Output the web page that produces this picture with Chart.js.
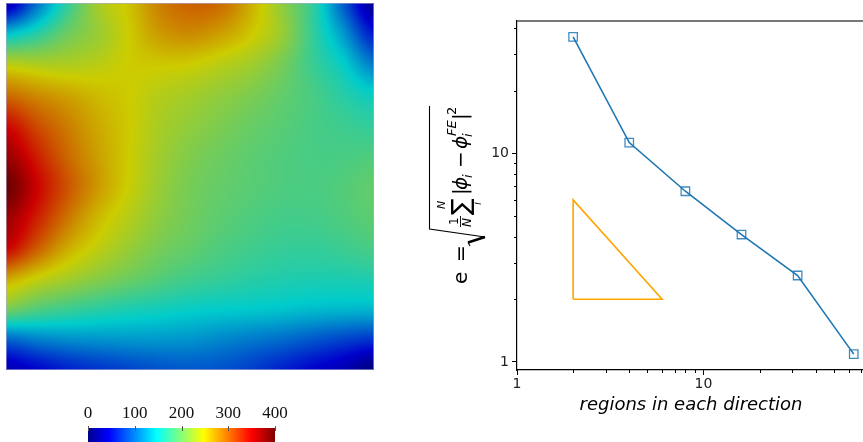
<!DOCTYPE html>
<html>
<head>
<meta charset="utf-8">
<script src="https://cdn.jsdelivr.net/npm/chart.js@4.4.1/dist/chart.umd.min.js"></script>
<style>
  html, body { margin: 0; padding: 0; background: #fff; overflow: hidden; width: 863px; height: 442px; }
  canvas { position: absolute; }
  #field { left: 0; top: 0; }
  #cbar { left: 0; top: 395px; }
  #conv { left: 420px; top: 0; }
</style>
</head>
<body>
<canvas id="field" width="420" height="395"></canvas>
<canvas id="cbar" width="420" height="47"></canvas>
<canvas id="conv" width="455" height="442"></canvas>
<script>
// --- dados do campo (linhas de cima para baixo) ---
const gridU = [0, 1/12, 2/12, 3/12, 4/12, 5/12, 6/12, 7/12, 8/12, 9/12, 10/12, 11/12, 1];
const gridV = [0, 1/12, 2/12, 3/12, 4/12, 5/12, 6/12, 7/12, 8/12, 9/12, 10/12, 11/12, 1];
const fieldValues = [
  [ 25, 100, 170, 228, 252, 285, 300, 295, 262, 218, 170,  90,  15],
  [140, 165, 200, 222, 248, 272, 280, 270, 250, 222, 172, 120,  55],
  [238, 232, 232, 238, 248, 250, 248, 238, 226, 205, 175, 148, 105],
  [295, 280, 268, 256, 248, 236, 228, 218, 208, 195, 182, 165, 150],
  [345, 312, 287, 265, 249, 230, 218, 208, 198, 190, 182, 176, 170],
  [375, 335, 298, 270, 248, 226, 210, 200, 192, 186, 182, 182, 185],
  [398, 350, 308, 273, 246, 222, 205, 196, 190, 185, 183, 187, 195],
  [375, 335, 292, 258, 236, 216, 202, 192, 185, 180, 180, 185, 192],
  [350, 305, 265, 241, 222, 205, 195, 185, 178, 173, 172, 176, 182],
  [268, 245, 228, 213, 200, 188, 178, 172, 166, 162, 160, 160, 162],
  [205, 187, 176, 167, 160, 155, 150, 147, 145, 142, 138, 136, 135],
  [ 95, 108, 115, 118, 120, 120, 118, 112, 105,  98,  88,  78,  70],
  [ 30,  45,  60,  70,  78,  85,  88,  85,  75,  60,  45,  30,   5]
];
const colorbarTicks = [0, 100, 200, 300, 400];

// --- dados da convergência ---
const regions = [2, 4, 8, 16, 32, 64];
const errors = [36.4, 11.3, 6.6, 4.09, 2.6, 1.09];
const slopeX = [2, 2, 6, 2];
const slopeY = [2, 6, 2, 2];
const xTicks = [1, 2, 3, 4, 5, 6, 7, 8, 9, 10, 20, 30, 40, 50, 60, 70];
const yTicks = [1, 2, 3, 4, 5, 6, 7, 8, 9, 10, 20, 30, 40];

// mapa de cores "jet" (ParaView)
const jetStops = [[0, 0, 0, 0.5625], [0.1111, 0, 0, 1], [0.3651, 0, 1, 1], [0.4921, 0.5, 1, 0.5],
                  [0.6190, 1, 1, 0], [0.8730, 1, 0, 0], [1, 0.5, 0, 0]];
function jet(t) {
  t = Math.min(1, Math.max(0, t));
  for (let k = 1; k < jetStops.length; k++) {
    const a = jetStops[k - 1], b = jetStops[k];
    if (t <= b[0]) {
      const f = (t - a[0]) / (b[0] - a[0]);
      return [1, 2, 3].map(j => a[j] + (b[j] - a[j]) * f);
    }
  }
  return jetStops[jetStops.length - 1].slice(1);
}

// sombreamento suave entre os nós da grade (Catmull-Rom)
function cr(p0, p1, p2, p3, t) {
  return 0.5 * (2 * p1 + (-p0 + p2) * t + (2 * p0 - 5 * p1 + 4 * p2 - p3) * t * t + (-p0 + 3 * p1 - 3 * p2 + p3) * t * t * t);
}
function sampleField(u, v) {
  const nu = gridU.length - 1, nv = gridV.length - 1;
  const fu = Math.min(Math.max(u, 0), 1) * nu;
  const fv = Math.min(Math.max(v, 0), 1) * nv;
  const i = Math.min(Math.floor(fu), nu - 1), j = Math.min(Math.floor(fv), nv - 1);
  const tu = fu - i, tv = fv - j;
  const at = (jj, ii) => fieldValues[Math.min(Math.max(jj, 0), nv)][Math.min(Math.max(ii, 0), nu)];
  const r = [-1, 0, 1, 2].map(d => cr(at(j + d, i - 1), at(j + d, i), at(j + d, i + 1), at(j + d, i + 2), tu));
  return cr(r[0], r[1], r[2], r[3], tv);
}

const fieldPlugin = {
  id: 'fieldPlugin',
  beforeDatasetsDraw(chart) {
    const { ctx, chartArea, scales: { x, y } } = chart;
    const left = Math.round(chartArea.left), top = Math.round(chartArea.top);
    const w = Math.round(chartArea.right) - left, h = Math.round(chartArea.bottom) - top;
    const img = ctx.createImageData(w, h);
    for (let py = 0; py < h; py++) {
      const v = y.getValueForPixel(top + py + 0.5);
      for (let px = 0; px < w; px++) {
        const u = x.getValueForPixel(left + px + 0.5);
        const c = jet(sampleField(u, v) / 400);
        const p = (py * w + px) * 4;
        img.data[p] = Math.round(c[0] * 255 * 0.8);
        img.data[p + 1] = Math.round(c[1] * 255 * 0.8);
        img.data[p + 2] = Math.round(c[2] * 255 * 0.8);
        img.data[p + 3] = 255;
      }
    }
    ctx.putImageData(img, left, top);
    ctx.save();
    ctx.strokeStyle = 'rgba(170,170,210,0.6)';
    ctx.lineWidth = 1;
    ctx.strokeRect(left + 0.5, top + 0.5, w - 1, h - 1);
    ctx.restore();
  }
};

new Chart(document.getElementById('field'), {
  type: 'scatter',
  data: { datasets: [] },
  options: {
    responsive: false,
    animation: false,
    layout: { padding: { left: 6, top: 3, right: 46, bottom: 25 } },
    scales: {
      x: { type: 'linear', min: 0, max: 1, display: false },
      y: { type: 'linear', min: 0, max: 1, reverse: true, display: false }
    },
    plugins: { legend: { display: false }, tooltip: { enabled: false } }
  },
  plugins: [fieldPlugin]
});

// --- barra de cores ---
const colorbarPlugin = {
  id: 'colorbarPlugin',
  beforeDatasetsDraw(chart) {
    const { ctx, chartArea, scales: { x } } = chart;
    const grad = ctx.createLinearGradient(x.getPixelForValue(0), 0, x.getPixelForValue(400), 0);
    jetStops.forEach(s => {
      grad.addColorStop(s[0], `rgb(${Math.round(s[1] * 255)},${Math.round(s[2] * 255)},${Math.round(s[3] * 255)})`);
    });
    ctx.save();
    ctx.fillStyle = grad;
    ctx.fillRect(chartArea.left, chartArea.top, chartArea.width, chartArea.height);
    ctx.strokeStyle = '#555';
    ctx.lineWidth = 1;
    colorbarTicks.forEach(v => {
      const px = Math.round(x.getPixelForValue(v)) + 0.5;
      ctx.beginPath();
      ctx.moveTo(px, chartArea.top - 2);
      ctx.lineTo(px, chartArea.top + 3);
      ctx.stroke();
    });
    ctx.restore();
  }
};

new Chart(document.getElementById('cbar'), {
  type: 'scatter',
  data: { datasets: [] },
  options: {
    responsive: false,
    animation: false,
    layout: { padding: { left: 88, right: 145, top: 0, bottom: 0 } },
    scales: {
      x: {
        type: 'linear', position: 'top', min: 0, max: 400,
        afterBuildTicks: s => { s.ticks = colorbarTicks.map(v => ({ value: v })); },
        afterFit: s => { s.height = 33; },
        grid: { display: false, drawTicks: false },
        border: { display: false },
        ticks: { padding: 4, autoSkip: false, maxRotation: 0, color: '#111',
                 font: { family: 'Liberation Serif', size: 17 } }
      },
      y: { display: false, min: 0, max: 1 }
    },
    plugins: { legend: { display: false }, tooltip: { enabled: false } }
  },
  plugins: [colorbarPlugin]
});

// --- gráfico de convergência ---
const isMajor = v => Math.abs(Math.log10(v) - Math.round(Math.log10(v))) < 1e-6;
const xMax = Math.pow(10, 1.881);
const yMin = Math.pow(10, -0.0388), yMax = Math.pow(10, 1.637);

function drawErrorLabel(ctx) {
  const up = s => `${s}px "DejaVu Sans"`;
  const it = s => `italic ${s}px "DejaVu Sans"`;
  const put = (txt, t, yy, font) => { ctx.font = font; ctx.fillText(txt, t, yy); };
  ctx.save();
  ctx.translate(47, 284);
  ctx.rotate(-Math.PI / 2);
  ctx.fillStyle = '#000';
  ctx.strokeStyle = '#000';
  ctx.textBaseline = 'alphabetic';
  ctx.textAlign = 'left';
  put('e', 0, 0, up(20));
  put('=', 22, 0, up(20));
  // radical
  ctx.lineJoin = 'miter';
  ctx.lineWidth = 1.1;
  ctx.beginPath(); ctx.moveTo(38, 3); ctx.lineTo(41.5, 1); ctx.stroke();
  ctx.lineWidth = 2.4;
  ctx.beginPath(); ctx.moveTo(41.5, 1); ctx.lineTo(47, 18); ctx.stroke();
  ctx.lineWidth = 1.1;
  ctx.beginPath(); ctx.moveTo(47, 18); ctx.lineTo(55, -37.5); ctx.lineTo(178, -37.5); ctx.stroke();
  // 1/N
  put('1', 59, -9, up(12));
  ctx.lineWidth = 0.9;
  ctx.beginPath(); ctx.moveTo(57, -6.5); ctx.lineTo(68, -6.5); ctx.stroke();
  put('N', 57, 4, it(12));
  // soma
  put('\u2211', 69, 2, up(25));
  put('N', 75, -22, it(11));
  put('i', 79, 14, it(11));
  put('|', 89, 0, up(20));
  put('\u03d5', 94, 0, it(20));
  put('i', 106, 5, it(13));
  put('\u2212', 116, 0, up(20));
  put('\u03d5', 135, 0, it(20));
  put('i', 147, 5, it(13));
  put('FE', 148, -11, it(13));
  put('|', 164, 0, up(20));
  put('2', 169, -11, up(13));
  ctx.restore();
}

const convPlugin = {
  id: 'convPlugin',
  afterDraw(chart) {
    const { ctx, chartArea, scales: { x, y } } = chart;
    ctx.save();
    ctx.strokeStyle = '#000';
    ctx.lineWidth = 1;
    // ticks menores
    x.ticks.forEach(t => {
      if (isMajor(t.value)) return;
      const px = Math.round(x.getPixelForValue(t.value)) + 0.5;
      ctx.beginPath(); ctx.moveTo(px, chartArea.bottom); ctx.lineTo(px, chartArea.bottom + 3); ctx.stroke();
    });
    y.ticks.forEach(t => {
      if (isMajor(t.value)) return;
      const py = Math.round(y.getPixelForValue(t.value)) + 0.5;
      ctx.beginPath(); ctx.moveTo(chartArea.left, py); ctx.lineTo(chartArea.left - 3, py); ctx.stroke();
    });
    // borda superior
    ctx.strokeStyle = '#777';
    ctx.lineWidth = 2;
    ctx.beginPath(); ctx.moveTo(chartArea.left, chartArea.top); ctx.lineTo(chartArea.right, chartArea.top); ctx.stroke();
    // título do eixo x
    ctx.fillStyle = '#000';
    ctx.font = 'italic 18px "DejaVu Sans"';
    ctx.textAlign = 'center';
    ctx.textBaseline = 'alphabetic';
    ctx.fillText('regions in each direction', 271, 410);
    ctx.restore();
    drawErrorLabel(ctx);
  }
};

const axisCommon = {
  type: 'logarithmic',
  grid: {
    display: true, drawOnChartArea: false, drawTicks: true, tickLength: 5, tickWidth: 1,
    tickColor: c => (c.tick && isMajor(c.tick.value)) ? '#000' : 'rgba(0,0,0,0)'
  },
  border: { display: true, color: '#000', width: 1.2 }
};

new Chart(document.getElementById('conv'), {
  type: 'line',
  data: {
    datasets: [
      {
        data: regions.map((r, i) => ({ x: r, y: errors[i] })),
        borderColor: '#1f77b4',
        borderWidth: 1.6,
        tension: 0,
        pointStyle: 'rect',
        pointRadius: 6,
        pointBorderWidth: 1.3,
        pointBorderColor: 'rgba(31,119,180,0.85)',
        pointBackgroundColor: 'rgba(0,0,0,0)'
      },
      {
        data: slopeX.map((r, i) => ({ x: r, y: slopeY[i] })),
        borderColor: '#ffa500',
        borderWidth: 1.6,
        tension: 0,
        pointRadius: 0
      }
    ]
  },
  options: {
    responsive: false,
    animation: false,
    layout: { padding: { left: 0, top: 21, right: 0, bottom: 0 } },
    scales: {
      x: {
        ...axisCommon,
        min: 1, max: xMax,
        afterBuildTicks: s => { s.ticks = xTicks.map(v => ({ value: v })); },
        afterFit: s => { s.height = 72; },
        ticks: { autoSkip: false, maxRotation: 0, padding: 1, color: '#222',
                 font: { family: 'DejaVu Sans', size: 14 },
                 callback: v => isMajor(v) ? String(Math.round(v)) : '' }
      },
      y: {
        ...axisCommon,
        min: yMin, max: yMax,
        afterBuildTicks: s => { s.ticks = yTicks.map(v => ({ value: v })); },
        afterFit: s => { s.width = 97; },
        ticks: { autoSkip: false, padding: 3, color: '#222',
                 font: { family: 'DejaVu Sans', size: 14 },
                 callback: v => isMajor(v) ? String(Math.round(v)) : '' }
      }
    },
    plugins: { legend: { display: false }, tooltip: { enabled: false } }
  },
  plugins: [convPlugin]
});
</script>
</body>
</html>
